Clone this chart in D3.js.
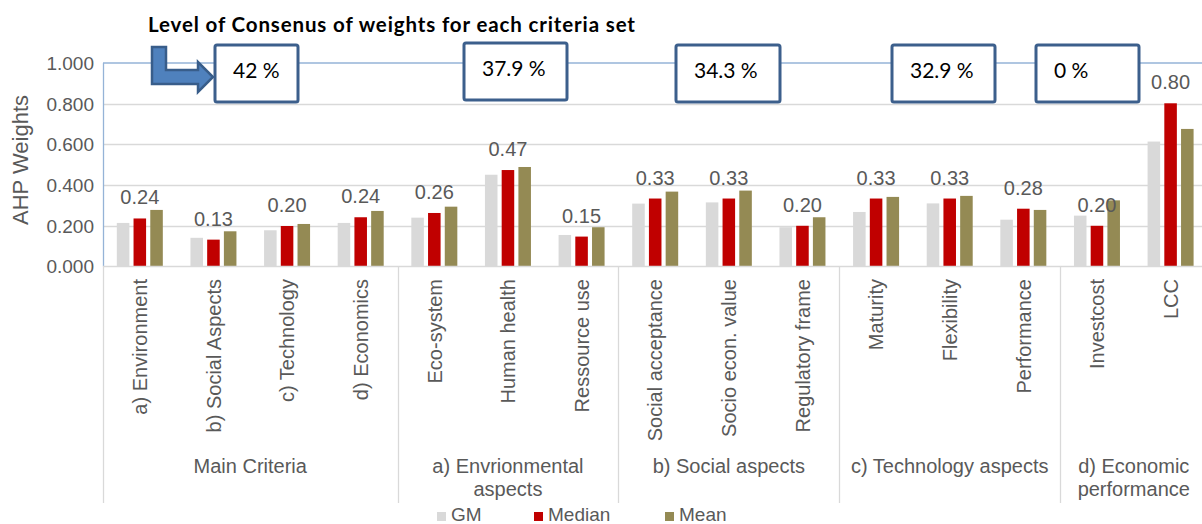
<!DOCTYPE html>
<html><head><meta charset="utf-8">
<script src="https://cdn.jsdelivr.net/npm/d3@7/dist/d3.min.js"></script>
<style>
html,body{margin:0;padding:0;background:#fff;}
svg{display:block;}
</style></head>
<body>
<svg id="chart" width="1202" height="524"></svg>
<script>
// ---- data ----
const categories = ["a) Environment","b) Social Aspects","c) Technology","d) Economics",
  "Eco-system","Human health","Ressource use",
  "Social acceptance","Socio econ. value","Regulatory frame",
  "Maturity","Flexibility","Performance",
  "Investcost","LCC"];
const groupLabels = [["Main Criteria"],["a) Envrionmental","aspects"],["b) Social aspects"],["c) Technology aspects"],["d) Economic","performance"]];
const groupSizes = [4,3,3,3,2];
const seriesNames = ["GM","Median","Mean"];
const gmValues     = [0.214,0.141,0.178,0.214,0.240,0.451,0.155,0.309,0.315,0.193,0.268,0.310,0.230,0.250,0.614];
const medianValues = [0.236,0.132,0.199,0.242,0.263,0.474,0.147,0.334,0.334,0.200,0.334,0.334,0.284,0.200,0.802];
const meanValues   = [0.278,0.173,0.209,0.273,0.294,0.489,0.193,0.368,0.373,0.242,0.342,0.347,0.278,0.325,0.676];
const yTicks = [0,0.2,0.4,0.6,0.8,1.0];
const consensusLabels = ["42 %","37.9 %","34.3 %","32.9 %","0 %"];
const titleText = "Level of Consenus of weights for each criteria set";
const yTitle = "AHP Weights";

// ---- layout ----
const colors = {GM:"#D9D9D9", Median:"#C00000", Mean:"#948A54"};
const plot = {left:103, right:1207.4, top:63, bottom:266.5};
const boxLayout = [ {x:215,y:45,w:83,h:57}, {x:464,y:43,w:103,h:57}, {x:676,y:45,w:104,h:57}, {x:892,y:45,w:103,h:57}, {x:1036,y:45,w:103,h:57} ];
const axisColor = "#595959";
const sans = "'Liberation Sans', Arial, sans-serif";
const calib = "Lato, 'Open Sans', sans-serif";

const svg = d3.select("#chart");

const x = d3.scaleBand().domain(categories).range([plot.left, plot.right]).padding(0);
const x1 = d3.scaleBand().domain(seriesNames).range([-23, 23]).paddingInner(0.25).paddingOuter(0);
const y = d3.scaleLinear().domain([0,1]).range([plot.bottom, plot.top]);

// gridlines
svg.append("g").selectAll("line").data(yTicks.filter(t=>t>0 && t<1)).join("line")
  .attr("x1", plot.left).attr("x2", 1202)
  .attr("y1", d=>Math.round(y(d))+0.5).attr("y2", d=>Math.round(y(d))+0.5)
  .attr("stroke","#D9D9D9").attr("stroke-width",1.3);

// plot area border (top & left, light blue)
svg.append("line").attr("x1",plot.left).attr("x2",1202).attr("y1",y(1)).attr("y2",y(1))
  .attr("stroke","#95B3D7").attr("stroke-width",1.3);
svg.append("line").attr("x1",plot.left+0.5).attr("x2",plot.left+0.5).attr("y1",y(1)).attr("y2",plot.bottom)
  .attr("stroke","#95B3D7").attr("stroke-width",1.3);

// y axis labels
svg.append("g").selectAll("text").data(yTicks).join("text")
  .attr("x", 94).attr("y", d=>y(d)).attr("dy","0.36em")
  .attr("text-anchor","end").attr("font-family",sans).attr("font-size",19)
  .attr("fill",axisColor).text(d=>d3.format(".3f")(d));

svg.append("text").attr("transform",`translate(28,160) rotate(-90)`)
  .attr("text-anchor","middle").attr("font-family",sans).attr("font-size",22)
  .attr("fill",axisColor).text(yTitle);

// bars
const seriesData = {GM:gmValues, Median:medianValues, Mean:meanValues};
const barData = [];
categories.forEach((c,i)=>seriesNames.forEach(s=>barData.push({c, s, v:seriesData[s][i]})));
svg.append("g").selectAll("rect").data(barData).join("rect")
  .attr("x", d=>x(d.c)+x.bandwidth()/2+x1(d.s))
  .attr("width", x1.bandwidth())
  .attr("y", d=>y(d.v)).attr("height", d=>y(0)-y(d.v))
  .attr("fill", d=>colors[d.s]);

// x axis line
svg.append("line").attr("x1",plot.left).attr("x2",1202).attr("y1",plot.bottom).attr("y2",plot.bottom)
  .attr("stroke","#D9D9D9").attr("stroke-width",1.5);

// group separators
const starts = [0]; groupSizes.forEach((n,i)=>starts.push(starts[i]+n));
const bounds = starts.map(i => i < categories.length ? x(categories[i]) : plot.right);
svg.append("g").selectAll("line").data(bounds).join("line")
  .attr("x1",d=>Math.round(d)+0.5).attr("x2",d=>Math.round(d)+0.5)
  .attr("y1",plot.bottom).attr("y2",503)
  .attr("stroke","#D9D9D9").attr("stroke-width",1.3);

// data labels (median)
svg.append("g").selectAll("text").data(categories).join("text")
  .attr("x", c=>x(c)+x.bandwidth()/2)
  .attr("y", (c,i)=>y(medianValues[i])-14)
  .attr("text-anchor","middle").attr("font-family",sans).attr("font-size",20)
  .attr("fill",axisColor).text((c,i)=>d3.format(".2f")(medianValues[i]));

// category labels (rotated)
svg.append("g").selectAll("text").data(categories).join("text")
  .attr("transform", c=>`translate(${x(c)+x.bandwidth()/2},279) rotate(-90)`)
  .attr("dy","0.36em").attr("text-anchor","end")
  .attr("font-family",sans).attr("font-size",20).attr("fill",axisColor).text(c=>c);

// group labels
const gl = svg.append("g");
groupLabels.forEach((lines,i)=>{
  const cx = (bounds[i]+bounds[i+1])/2;
  const t = gl.append("text").attr("text-anchor","middle").attr("font-family",sans)
    .attr("font-size",20).attr("fill",axisColor);
  lines.forEach((ln,j)=>t.append("tspan").attr("x",cx).attr("y",473+j*22.5).text(ln));
});

// legend
const legendX = [437, 534, 665];
const lg = svg.append("g");
seriesNames.forEach((s,i)=>{
  lg.append("rect").attr("x",legendX[i]).attr("y",512).attr("width",9).attr("height",9).attr("fill",colors[s]);
  lg.append("text").attr("x",legendX[i]+14).attr("y",521).attr("font-family",sans)
    .attr("font-size",19).attr("fill",axisColor).text(s);
});

// title
svg.append("text").attr("x",148).attr("y",32).attr("font-family",calib).attr("font-weight","bold")
  .attr("font-size",20.5).attr("textLength",487).attr("lengthAdjust","spacing")
  .attr("fill","#000").text(titleText);

// bent arrow
const arrow = d3.path();
arrow.moveTo(152,47); arrow.lineTo(166,47); arrow.lineTo(166,70); arrow.lineTo(198,70);
arrow.lineTo(198,62); arrow.lineTo(213,77); arrow.lineTo(198,92); arrow.lineTo(198,84);
arrow.lineTo(152,84); arrow.closePath();
svg.append("path").attr("d",arrow.toString()).attr("fill","#4F81BD")
  .attr("stroke","#385D8A").attr("stroke-width",2.5).attr("stroke-linejoin","miter");

// consensus boxes
const bx = svg.append("g");
consensusLabels.forEach((lab,i)=>{
  const b = boxLayout[i];
  bx.append("rect").attr("x",b.x).attr("y",b.y).attr("width",b.w).attr("height",b.h)
    .attr("rx",2).attr("fill","#fff").attr("stroke","#3C5F8C").attr("stroke-width",3);
  bx.append("text").attr("x",b.x+18).attr("y",b.y+33).attr("font-family",calib)
    .attr("font-size",21).attr("fill","#000").text(lab);
});
</script>
</body></html>
